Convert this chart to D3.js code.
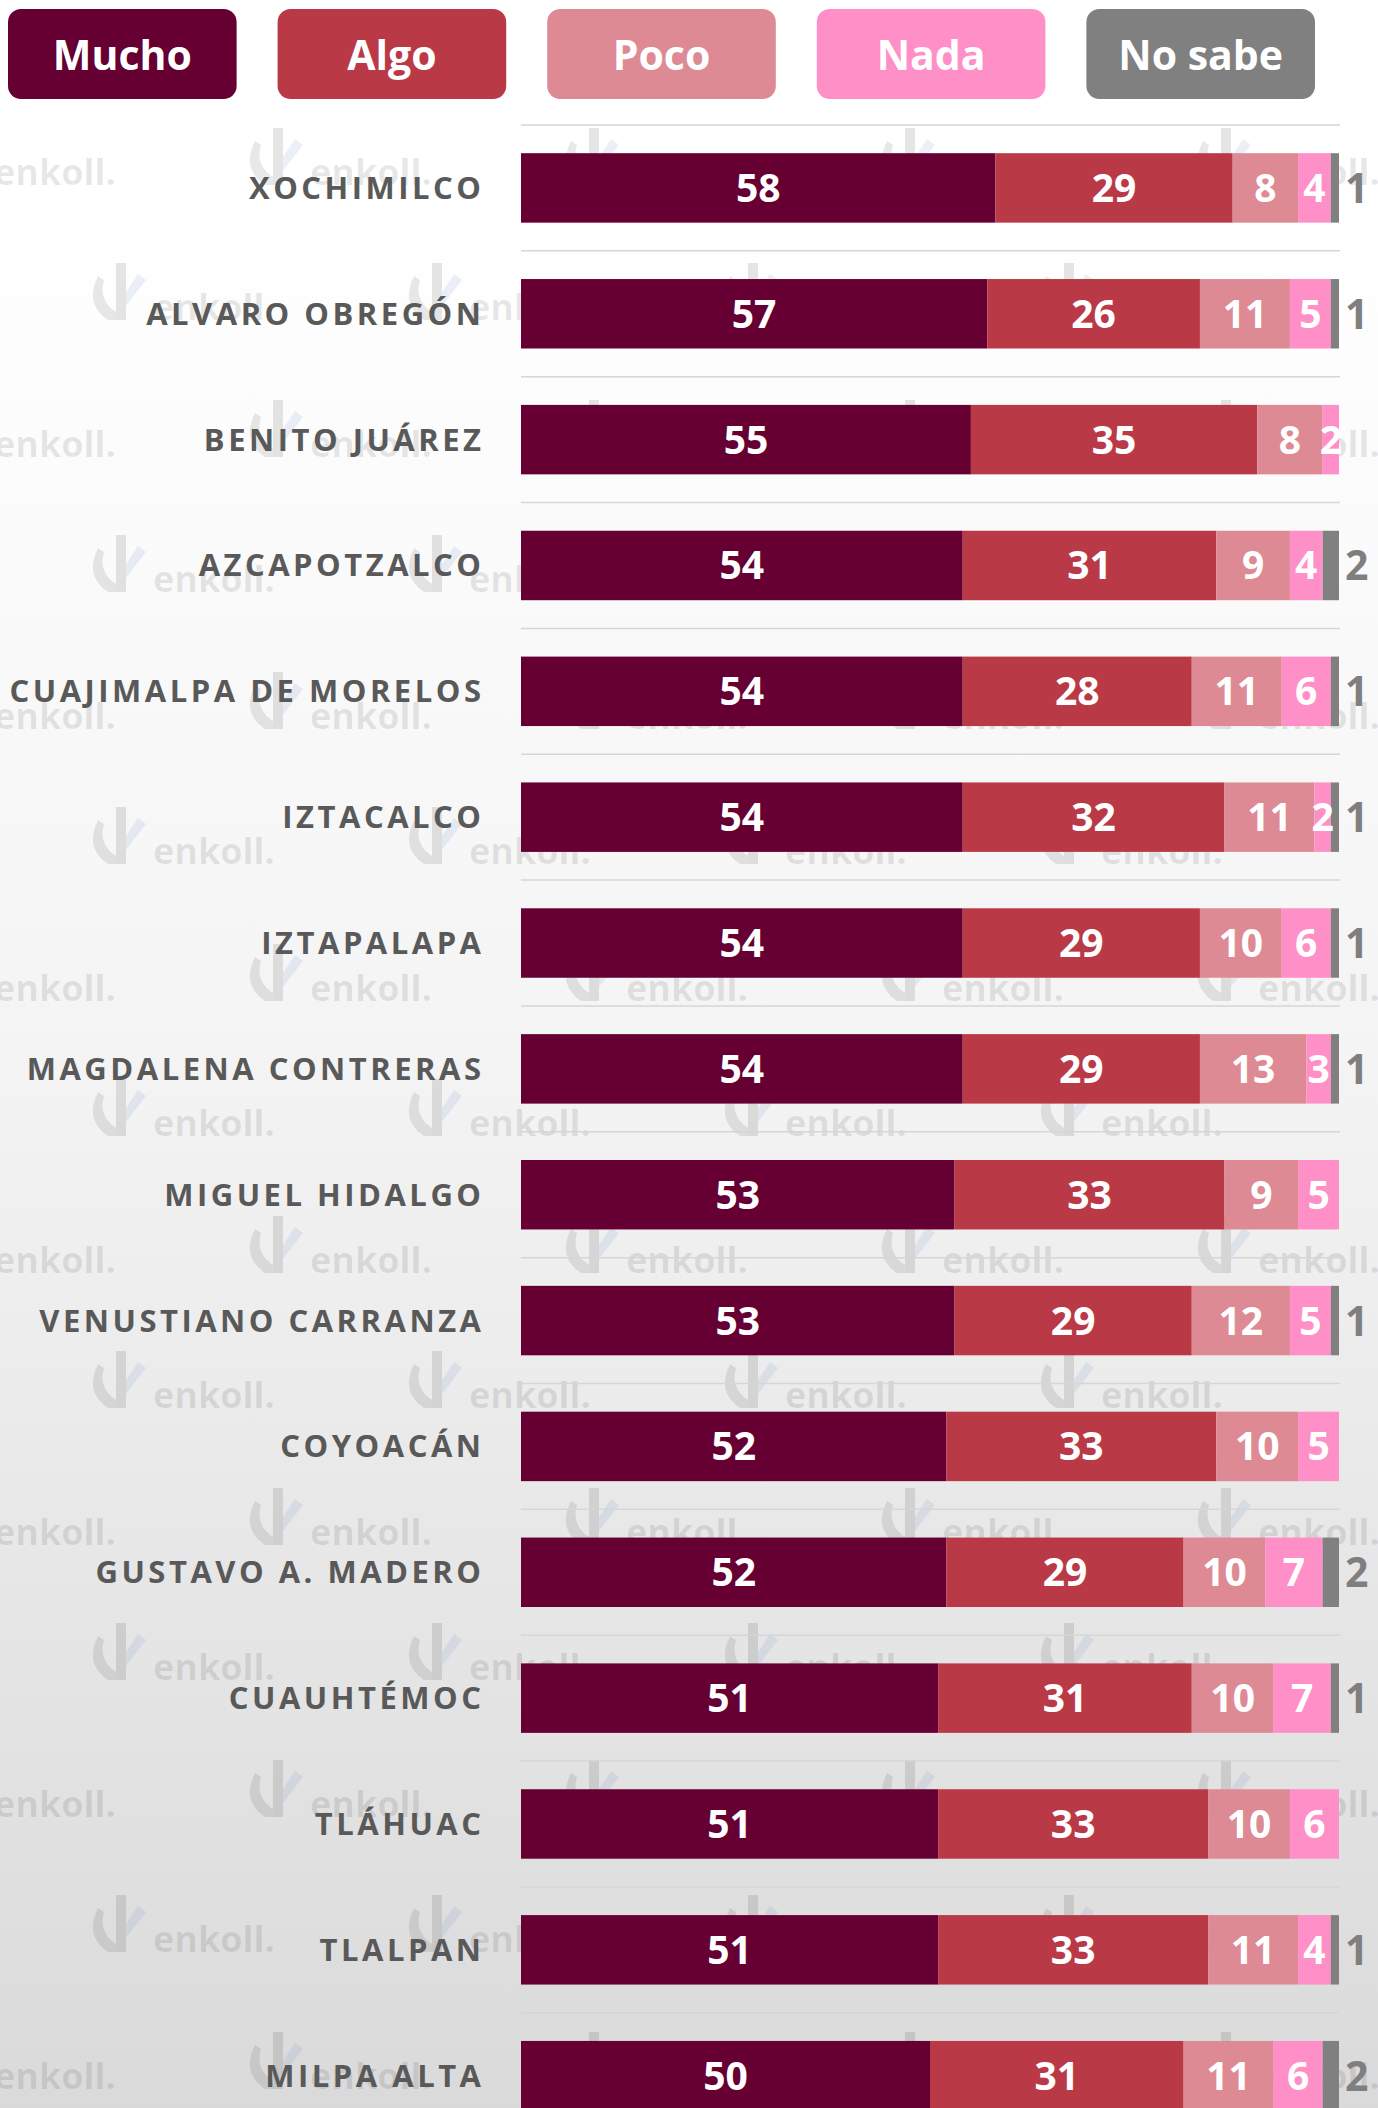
<!DOCTYPE html>
<html><head><meta charset="utf-8">
<script src="https://cdn.jsdelivr.net/npm/d3@7"></script>
<style>
body{margin:0;background:#fff}
svg{display:block}
text{font-family:"Open Sans",sans-serif}
</style>
</head><body>
<svg id="c" width="1378" height="2108"></svg>
<script>
// ---- data ----
const categories = ["XOCHIMILCO","ALVARO OBREGÓN","BENITO JUÁREZ","AZCAPOTZALCO","CUAJIMALPA DE MORELOS","IZTACALCO","IZTAPALAPA","MAGDALENA CONTRERAS","MIGUEL HIDALGO","VENUSTIANO CARRANZA","COYOACÁN","GUSTAVO A. MADERO","CUAUHTÉMOC","TLÁHUAC","TLALPAN","MILPA ALTA"];
const mucho  = [58,57,55,54,54,54,54,54,53,53,52,52,51,51,51,50];
const algo   = [29,26,35,31,28,32,29,29,33,29,33,29,31,33,33,31];
const poco   = [8,11,8,9,11,11,10,13,9,12,10,10,10,10,11,11];
const nada   = [4,5,2,4,6,2,6,3,5,5,5,7,7,6,4,6];
const noSabe = [1,1,0,2,1,1,1,1,0,1,0,2,1,0,1,2];
const seriesNames  = ["Mucho","Algo","Poco","Nada","No sabe"];
const seriesColors = ["#660033","#BA3946","#DD8A94","#FF8FC7","#808080"];

// ---- build table ----
const seriesValues = [mucho, algo, poco, nada, noSabe];
const table = categories.map((c,i)=>{
  const o = {cat:c};
  seriesNames.forEach((s,j)=>o[s]=seriesValues[j][i]);
  return o;
});

const W = 1378, H = 2108;
const svg = d3.select("#c");

// background gradient
const defs = svg.append("defs");
const grad = defs.append("linearGradient").attr("id","bg").attr("x1",0).attr("y1",0).attr("x2",0).attr("y2",1);
[[0,"#ffffff"],[0.1,"#ffffff"],[0.5,"#f4f4f4"],[0.76,"#e6e6e6"],[1,"#dadada"]].forEach(([o,c])=>
  grad.append("stop").attr("offset",o).attr("stop-color",c));
svg.append("rect").attr("width",W).attr("height",H).attr("fill","url(#bg)");

// watermark tiles
const wm = svg.append("g").attr("class","watermark");
function mark(g, tx, ty){
  const m = g.append("g").attr("transform",`translate(${tx-63},${ty})`);
  m.append("path").attr("d","M8,-44 Q-6,-16 18,0 L26,0 L26,-8 Q8,-20 14,-40 Z").attr("fill","rgba(0,0,0,0.09)");
  m.append("path").attr("d","M26,-57 L36,-57 L36,0 L26,0 Z").attr("fill","rgba(0,0,0,0.10)");
  m.append("path").attr("d","M36,-14 L36,-28 L48,-46 L56,-40 Z").attr("fill","rgba(90,130,200,0.12)");
  g.append("text").attr("x",tx).attr("y",ty).attr("font-size",36).attr("font-weight",700)
    .attr("fill","rgba(0,0,0,0.09)").text("enkoll.");
}
for(let k=0;k<8;k++){
  for(let j=0;j<5;j++) mark(wm, -6 + j*316, 185 + k*272);
  for(let j=0;j<4;j++) mark(wm, 153 + j*316, 320 + k*272);
}

// scales
const x = d3.scaleLinear().domain([0,100]).range([521,1339]);
const y = d3.scaleBand().domain(categories).range([125, 125+16*125.85]).paddingInner(0.448).paddingOuter(0.224);
const halfGap = y.step()*0.448/2;

// grid lines
svg.append("g").selectAll("line").data(categories).join("line")
  .attr("x1",x(0)).attr("x2",x(100)+1)
  .attr("y1",d=>y(d)-halfGap).attr("y2",d=>y(d)-halfGap)
  .attr("stroke","#d6d6d6").attr("stroke-width",1.5);

// stacked bars
const stack = d3.stack().keys(seriesNames)(table);
const color = d3.scaleOrdinal().domain(seriesNames).range(seriesColors);
const layers = svg.append("g").selectAll("g").data(stack).join("g").attr("fill",d=>color(d.key));
layers.selectAll("rect").data(d=>d.map(p=>({p,key:d.key}))).join("rect")
  .attr("x",d=>x(d.p[0])).attr("width",d=>x(d.p[1])-x(d.p[0]))
  .attr("y",d=>y(d.p.data.cat)).attr("height",y.bandwidth());

// value labels
const lab = svg.append("g");
stack.forEach((layer,si)=>{
  layer.forEach(p=>{
    const v = p[1]-p[0];
    if(v<=0) return;
    const cy = y(p.data.cat)+y.bandwidth()/2;
    if(si<4){
      lab.append("text").attr("x",(x(p[0])+x(p[1]))/2).attr("y",cy+14)
        .attr("text-anchor","middle").attr("font-size",39).attr("font-weight",700)
        .attr("fill","#ffffff").text(v);
    } else {
      lab.append("text").attr("x",x(100)+6).attr("y",cy+15)
        .attr("text-anchor","start").attr("font-size",41).attr("font-weight",700)
        .attr("fill","#7f7f7f").text(v);
    }
  });
});

// category labels
const ls = 3.5;
svg.append("g").selectAll("text").data(categories).join("text")
  .attr("x",481+ls).attr("y",d=>y(d)+y.bandwidth()/2+11)
  .attr("text-anchor","end").attr("font-size",31).attr("font-weight",700)
  .attr("letter-spacing",ls).attr("fill","#595959").text(d=>d);

// legend
const lx = d3.scaleBand().domain(seriesNames).range([8,1315]).paddingInner(0.152);
const lg = svg.append("g").selectAll("g").data(seriesNames).join("g");
lg.append("rect").attr("x",d=>lx(d)).attr("y",9).attr("width",lx.bandwidth()).attr("height",90)
  .attr("rx",13).attr("fill",d=>color(d));
lg.append("text").attr("x",d=>lx(d)+lx.bandwidth()/2).attr("y",70).attr("text-anchor","middle")
  .attr("font-size",41).attr("font-weight",700).attr("fill","#ffffff").text(d=>d);
</script>
</body></html>
